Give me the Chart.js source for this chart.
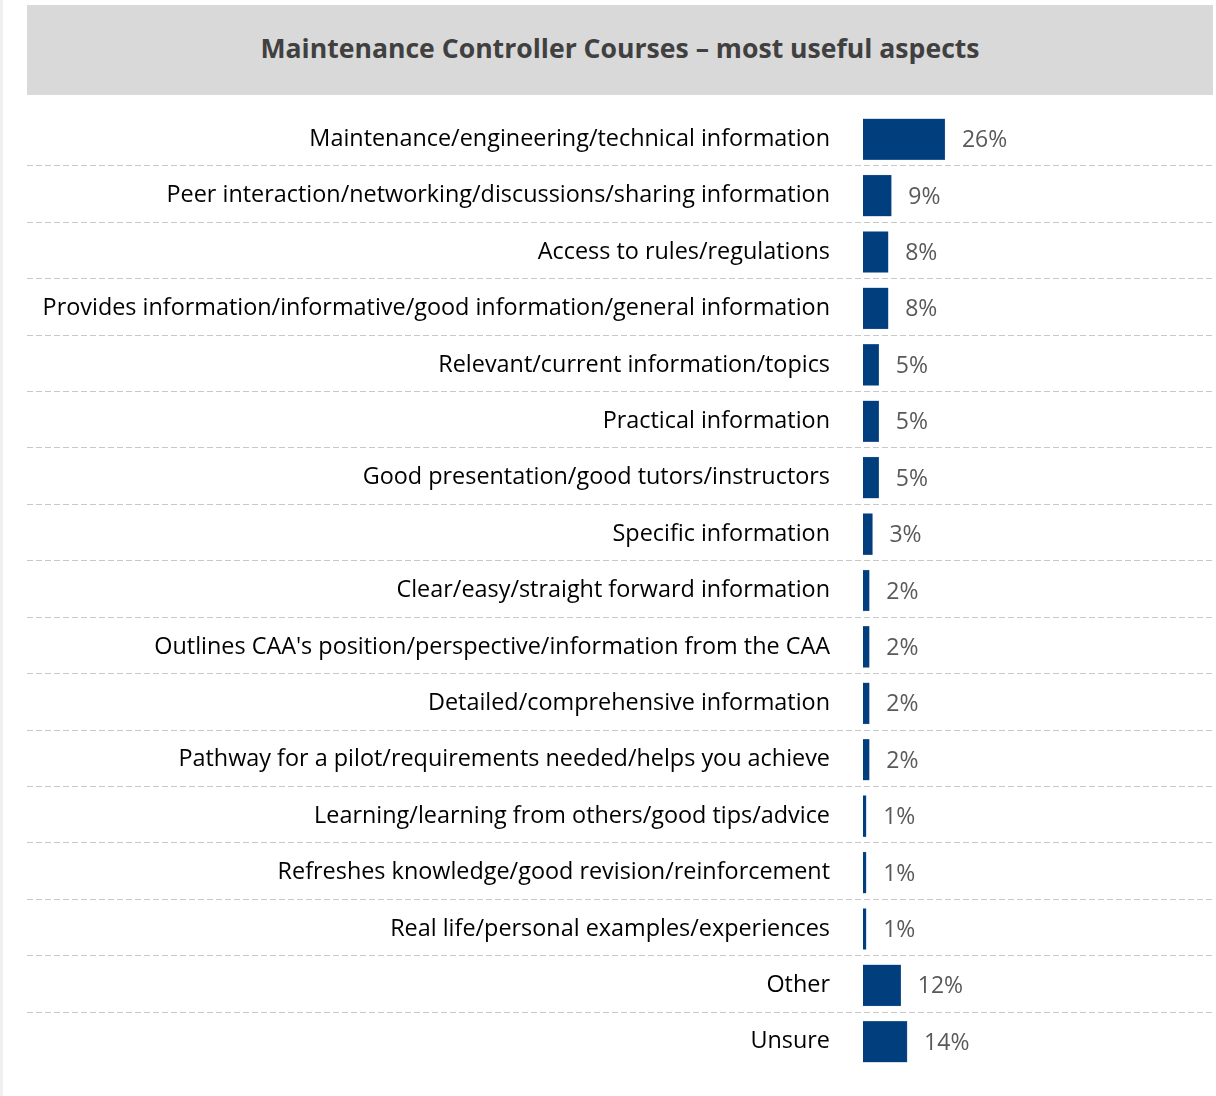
<!DOCTYPE html>
<html>
<head>
<meta charset="utf-8">
<script src="https://cdn.jsdelivr.net/npm/chart.js@4/dist/chart.umd.min.js"></script>
<style>
  html, body { margin: 0; padding: 0; background: #f0f0f0; }
  #page { position: absolute; left: 3px; top: 0; width: 1213px; height: 1096px; background: #ffffff; }
  #title { position: absolute; left: 24px; top: 5px; width: 1186px; height: 86px; padding-bottom: 4px; background: #d9d9d9;
    display: flex; align-items: center; justify-content: center;
    font-family: "Open Sans", sans-serif; font-weight: bold; font-size: 26.6px; color: #404040; }
  #wrap { position: absolute; left: 0; top: 95px; width: 1216px; height: 1001px; }
</style>
</head>
<body>
<div id="page">
  <div id="title">Maintenance Controller Courses – most useful aspects</div>
</div>
<div id="wrap"><canvas id="c" width="1216" height="1001"></canvas></div>
<script>
const categories = [
  "Maintenance/engineering/technical information",
  "Peer interaction/networking/discussions/sharing information",
  "Access to rules/regulations",
  "Provides information/informative/good information/general information",
  "Relevant/current information/topics",
  "Practical information",
  "Good presentation/good tutors/instructors",
  "Specific information",
  "Clear/easy/straight forward information",
  "Outlines CAA's position/perspective/information from the CAA",
  "Detailed/comprehensive information",
  "Pathway for a pilot/requirements needed/helps you achieve",
  "Learning/learning from others/good tips/advice",
  "Refreshes knowledge/good revision/reinforcement",
  "Real life/personal examples/experiences",
  "Other",
  "Unsure"
];
const values = [26, 9, 8, 8, 5, 5, 5, 3, 2, 2, 2, 2, 1, 1, 1, 12, 14];

const FONT = "Open Sans";
const FS = 23;
const LABEL_FS = 23.4;

const separators = {
  id: 'separators',
  beforeDatasetsDraw(chart) {
    const ys = chart.scales.y, ctx = chart.ctx;
    ctx.save();
    ctx.strokeStyle = '#c8c8c8';
    ctx.lineWidth = 1;
    ctx.setLineDash([6, 3]);
    for (let i = 0; i < categories.length - 1; i++) {
      const y = Math.round((ys.getPixelForValue(i) + ys.getPixelForValue(i + 1)) / 2) - 1.5;
      ctx.beginPath();
      ctx.moveTo(27, y);
      ctx.lineTo(1213, y);
      ctx.stroke();
    }
    ctx.restore();
  }
};

const valueLabels = {
  id: 'valueLabels',
  afterDatasetsDraw(chart) {
    const ctx = chart.ctx;
    const meta = chart.getDatasetMeta(0);
    ctx.save();
    ctx.fillStyle = '#595959';
    ctx.font = FS + 'px "' + FONT + '"';
    ctx.textAlign = 'left';
    ctx.textBaseline = 'middle';
    meta.data.forEach((el, i) => {
      ctx.fillText(values[i] + '%', el.x + 17, el.y + 1.5);
    });
    ctx.restore();
  }
};

new Chart(document.getElementById('c'), {
  type: 'bar',
  data: {
    labels: categories,
    datasets: [{
      data: values,
      backgroundColor: '#003e7e',
      borderColor: '#4f75a8',
      borderWidth: 0.5,
      barThickness: 41
    }]
  },
  options: {
    indexAxis: 'y',
    responsive: false,
    animation: false,
    layout: { padding: { left: 0, right: 38, top: 16, bottom: 26 } },
    plugins: { legend: { display: false }, tooltip: { enabled: false }, title: { display: false } },
    scales: {
      x: { display: false, min: 0, max: 100 },
      y: {
        grid: { display: false, tickLength: 33 },
        border: { display: false },
        ticks: {
          color: '#000000',
          font: { family: FONT, size: LABEL_FS, lineHeight: 1.3 },
          padding: 0,
          crossAlign: 'near'
        },
        afterFit(scale) { scale.width = 863; }
      }
    }
  },
  plugins: [separators, valueLabels]
});
</script>
</body>
</html>
